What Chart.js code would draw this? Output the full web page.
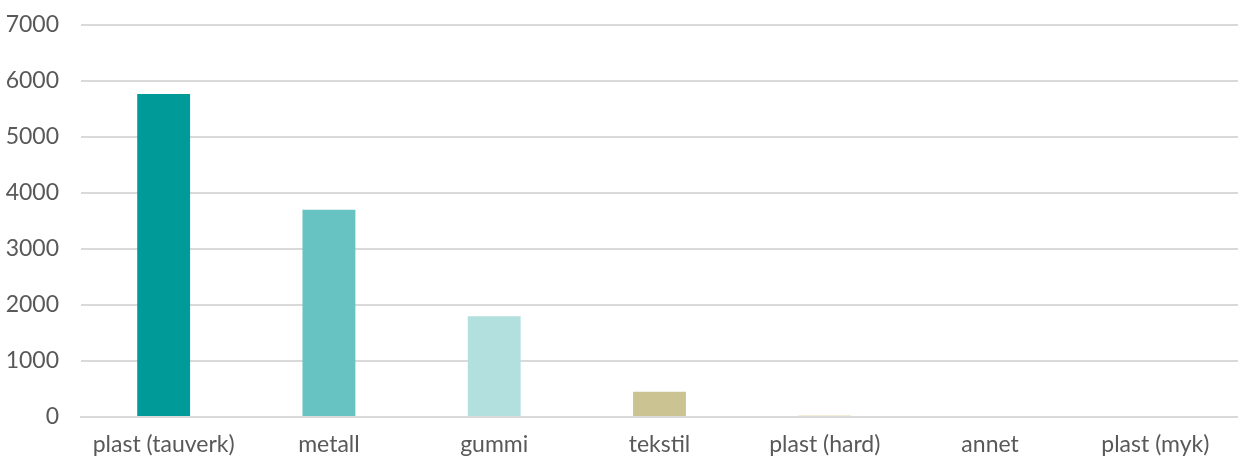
<!DOCTYPE html>
<html>
<head>
<meta charset="utf-8">
<script src="https://cdn.jsdelivr.net/npm/chart.js@4/dist/chart.umd.min.js"></script>
<style>
  html, body { margin: 0; padding: 0; background: #fff; }
  #wrap { width: 1238px; height: 459px; position: relative; }
</style>
</head>
<body>
<div id="wrap"><canvas id="chart"></canvas></div>
<script>
const categories = ["plast (tauverk)", "metall", "gummi", "tekstil", "plast (hard)", "annet", "plast (myk)"];
const counts = [5770, 3700, 1800, 450, 30, 0, 0];
const barColors = ["#009b99", "#66c3c2", "#b2e0df", "#cbc392", "#eee8cc", "#f2f2f2", "#f2f2f2"];
const yTicks = [0, 1000, 2000, 3000, 4000, 5000, 6000, 7000];

const FONT = { family: "Lato, 'Liberation Sans', sans-serif", size: 23 };

new Chart(document.getElementById("chart"), {
    type: "bar",
    data: {
        labels: categories,
        datasets: [
            {
                data: counts,
                backgroundColor: barColors,
                barPercentage: 0.32,
                categoryPercentage: 1,
            },
        ],
    },
    options: {
        responsive: true,
        maintainAspectRatio: false,
        animation: false,
        layout: { padding: { top: 25, right: 0, left: 0, bottom: 0 } },
        plugins: { legend: { display: false }, tooltip: { enabled: false } },
        scales: {
            x: {
                grid: { display: false },
                border: { color: "#d9d9d9", width: 2 },
                ticks: { color: "#595959", font: FONT, padding: 6, maxRotation: 0 },
                afterFit: (s) => { s.height = 42; s.paddingLeft = 0; s.paddingRight = 0; },
            },
            y: {
                min: 0,
                max: 7000,
                afterBuildTicks: (s) => { s.ticks = yTicks.map((v) => ({ value: v })); },
                grid: { color: "#d9d9d9", lineWidth: 2, drawTicks: false },
                border: { display: false },
                ticks: { color: "#595959", font: FONT, padding: 22, callback: (v) => String(v) },
                afterFit: (s) => { s.width = 81; s.paddingTop = 0; s.paddingBottom = 0; },
            },
        },
    },
});
</script>
</body>
</html>
